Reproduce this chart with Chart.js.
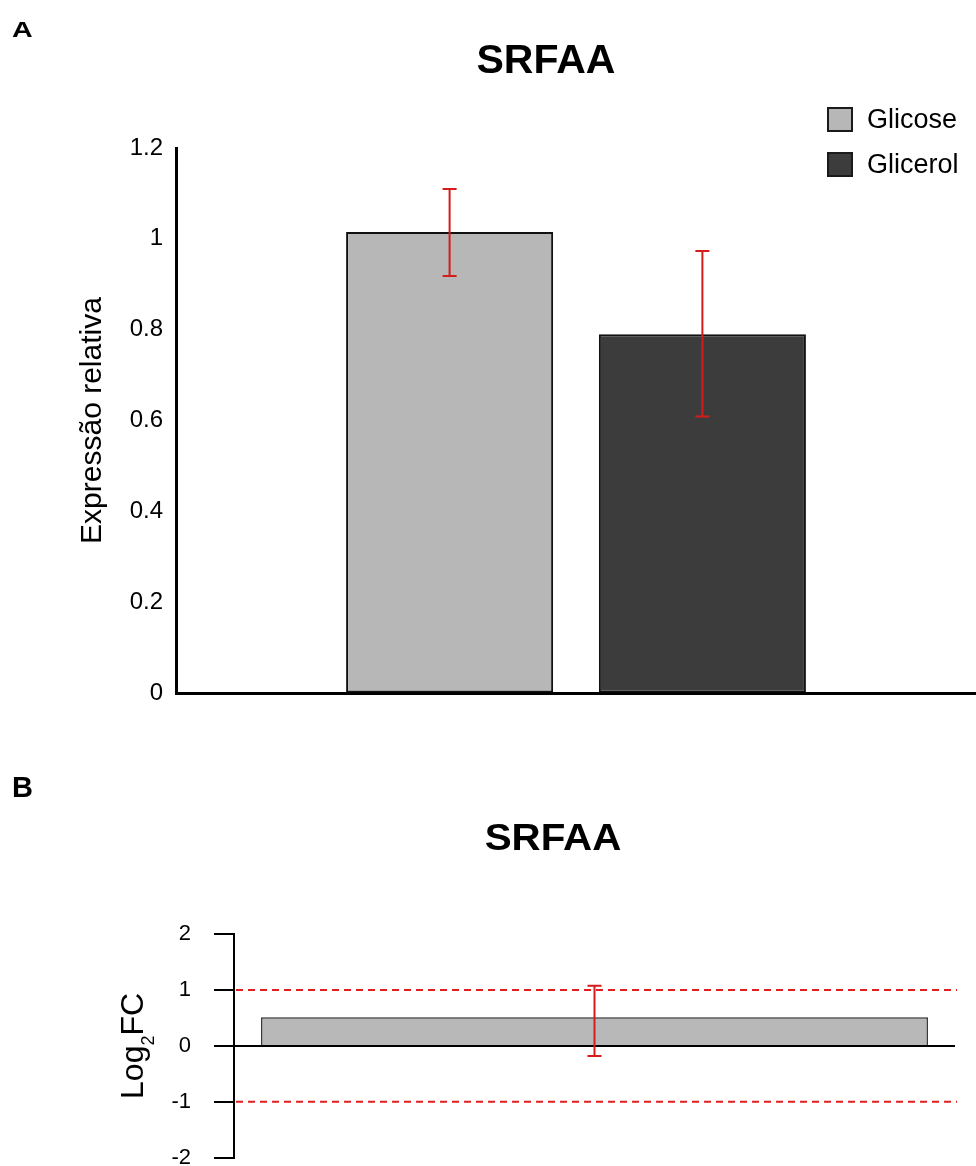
<!DOCTYPE html>
<html>
<head>
<meta charset="utf-8">
<script src="https://cdn.jsdelivr.net/npm/chart.js@4.4.0/dist/chart.umd.min.js"></script>
<style>
  html, body { margin: 0; padding: 0; background: #fff; overflow: hidden; }
  body { width: 976px; height: 1166px; position: relative; font-family: "Liberation Sans", Arial, sans-serif; }
  canvas { position: absolute; left: 0; }
  #chartA { top: 0; }
  #chartB { top: 740px; }
  #legend { position: absolute; left: 827px; top: 107px; }
  .item { display: flex; align-items: center; height: 25px; margin-bottom: 20px; }
  .swatch { width: 26px; height: 25px; box-sizing: border-box; border: 2px solid #1a1a1a; }
  .item span { font-size: 27px; margin-left: 14px; color: #000; }
</style>
</head>
<body>
<canvas id="chartA" width="976" height="740"></canvas>
<canvas id="chartB" width="976" height="454"></canvas>
<div id="legend"></div>
<script>
// panel A: relative expression
const labelsA = [''];
const seriesNames = ['Glicose', 'Glicerol'];
const seriesColors = ['#b7b7b7', '#3c3c3c'];
const meanA = [1.015, 0.79];
const lowA = [0.918, 0.609];
const highA = [1.11, 0.973];
const ticksA = [0, 0.2, 0.4, 0.6, 0.8, 1, 1.2];

// panel B: log2 fold change
const labelsB = ['SRFAA'];
const valuesB = [0.51];
const lowB = [-0.18];
const highB = [1.075];
const cutoffsB = [1, -1];
const ticksB = [-2, -1, 0, 1, 2];

const FONT = '"Liberation Sans", Arial, sans-serif';

// legend for panel A
const legend = document.getElementById('legend');
seriesNames.forEach((name, i) => {
  const row = document.createElement('div');
  row.className = 'item';
  row.innerHTML = `<div class="swatch" style="background:${seriesColors[i]}"></div><span>${name}</span>`;
  legend.appendChild(row);
});

function drawText(ctx, t) {
  ctx.save();
  ctx.font = t.font;
  ctx.fillStyle = '#000';
  ctx.textBaseline = 'alphabetic';
  ctx.textAlign = t.align || 'left';
  ctx.translate(t.x, t.y);
  ctx.scale(t.sx || 1, 1);
  ctx.fillText(t.text, 0, 0);
  ctx.restore();
}

const panelText = {
  id: 'panelText',
  afterDraw(chart, args, opts) {
    (opts.items || []).forEach(t => drawText(chart.ctx, t));
  }
};

const errorBars = {
  id: 'errorBars',
  afterDatasetsDraw(chart, args, opts) {
    const ctx = chart.ctx;
    const y = chart.scales.y;
    ctx.save();
    ctx.strokeStyle = opts.color;
    ctx.lineWidth = opts.width;
    chart.data.datasets.forEach((ds, i) => {
      chart.getDatasetMeta(i).data.forEach((bar, j) => {
        const top = y.getPixelForValue(ds.errHigh[j]);
        const bot = y.getPixelForValue(ds.errLow[j]);
        const cap = opts.cap;
        ctx.beginPath();
        ctx.moveTo(bar.x, top); ctx.lineTo(bar.x, bot);
        ctx.moveTo(bar.x - cap, top); ctx.lineTo(bar.x + cap, top);
        ctx.moveTo(bar.x - cap, bot); ctx.lineTo(bar.x + cap, bot);
        ctx.stroke();
      });
    });
    ctx.restore();
  }
};

const cutoffLines = {
  id: 'cutoffLines',
  beforeDatasetsDraw(chart, args, opts) {
    const ctx = chart.ctx;
    const area = chart.chartArea;
    const y = chart.scales.y;
    ctx.save();
    ctx.strokeStyle = opts.color;
    ctx.lineWidth = 2;
    ctx.setLineDash([7, 5]);
    opts.values.forEach(v => {
      const py = y.getPixelForValue(v);
      ctx.beginPath();
      ctx.moveTo(area.left + 2, py);
      ctx.lineTo(area.right + 2, py);
      ctx.stroke();
    });
    ctx.restore();
  }
};

const log2Title = {
  id: 'log2Title',
  afterDraw(chart) {
    const ctx = chart.ctx;
    const y = chart.scales.y;
    const mid = (y.top + y.bottom) / 2;
    ctx.save();
    ctx.translate(143, mid);
    ctx.rotate(-Math.PI / 2);
    ctx.fillStyle = '#000';
    ctx.textBaseline = 'alphabetic';
    const big = '32px ' + FONT, small = '18px ' + FONT;
    ctx.font = big;
    const w1 = ctx.measureText('Log').width, w3 = ctx.measureText('FC').width;
    ctx.font = small;
    const w2 = ctx.measureText('2').width;
    let x = -(w1 + w2 + w3) / 2;
    ctx.font = big; ctx.fillText('Log', x, 0); x += w1;
    ctx.font = small; ctx.fillText('2', x, 11); x += w2;
    ctx.font = big; ctx.fillText('FC', x, 0);
    ctx.restore();
  }
};

new Chart(document.getElementById('chartA'), {
  type: 'bar',
  data: {
    labels: labelsA,
    datasets: seriesNames.map((name, i) => ({
      label: name,
      data: [meanA[i]],
      errLow: [lowA[i]],
      errHigh: [highA[i]],
      backgroundColor: seriesColors[i],
      borderColor: '#111',
      borderWidth: 2,
      borderSkipped: false,
      categoryPercentage: 0.632,
      barPercentage: 0.819
    }))
  },
  options: {
    responsive: false,
    animation: false,
    devicePixelRatio: 1,
    layout: { padding: { top: 148, bottom: 47, left: 0, right: -4 } },
    plugins: {
      legend: { display: false },
      tooltip: { enabled: false },
      errorBars: { color: '#d41c1c', width: 2, cap: 7 },
      panelText: {
        items: [
          { text: 'A', x: 12, y: 37, font: 'bold 22px ' + FONT, sx: 1.3 },
          { text: 'SRFAA', x: 546, y: 73, font: 'bold 41px ' + FONT, align: 'center' }
        ]
      }
    },
    scales: {
      x: {
        grid: { display: true, drawOnChartArea: false, drawTicks: false },
        border: { display: true, color: '#000', width: 3 },
        ticks: { display: false },
        afterFit: s => { s.height = 0; }
      },
      y: {
        min: 0,
        max: 1.2,
        afterFit: s => { s.width = 176; },
        afterBuildTicks: s => { s.ticks = ticksA.map(v => ({ value: v })); },
        grid: { display: true, drawOnChartArea: false, drawTicks: false },
        border: { display: true, color: '#000', width: 3 },
        ticks: { padding: 13, color: '#000', font: { size: 24, family: FONT }, callback: v => String(v) },
        title: {
          display: true,
          text: 'Expressão relativa',
          color: '#000',
          font: { size: 30, family: FONT },
          padding: { top: 75, bottom: 0 }
        }
      }
    }
  },
  plugins: [errorBars, panelText]
});

new Chart(document.getElementById('chartB'), {
  type: 'bar',
  data: {
    labels: labelsB,
    datasets: [{
      data: valuesB,
      errLow: lowB,
      errHigh: highB,
      backgroundColor: '#b8b8b8',
      borderColor: '#2a2a2a',
      borderWidth: 1.5,
      categoryPercentage: 1,
      barPercentage: 0.925
    }]
  },
  options: {
    responsive: false,
    animation: false,
    devicePixelRatio: 1,
    layout: { padding: { top: 194, bottom: 23, left: 0, right: 21 } },
    plugins: {
      legend: { display: false },
      tooltip: { enabled: false },
      errorBars: { color: '#d41c1c', width: 2, cap: 7 },
      cutoffLines: { color: '#e02020', values: cutoffsB },
      panelText: {
        items: [
          { text: 'B', x: 12, y: 57, font: 'bold 29px ' + FONT },
          { text: 'SRFAA', x: 553, y: 110, font: 'bold 36px ' + FONT, align: 'center', sx: 1.12 }
        ]
      }
    },
    scales: {
      x: { display: false },
      y: {
        min: -2,
        max: 2,
        afterFit: s => { s.width = 234; },
        afterBuildTicks: s => { s.ticks = ticksB.map(v => ({ value: v })); },
        border: { display: true, color: '#000', width: 2 },
        grid: {
          color: c => (c.tick && c.tick.value === 0 ? '#000' : 'rgba(0,0,0,0)'),
          lineWidth: 2,
          drawTicks: true,
          tickLength: 20,
          tickColor: '#000',
          tickWidth: 2
        },
        ticks: { padding: 23, color: '#000', font: { size: 22, family: FONT }, callback: v => String(v) }
      }
    }
  },
  plugins: [cutoffLines, errorBars, panelText, log2Title]
});
</script>
</body>
</html>
